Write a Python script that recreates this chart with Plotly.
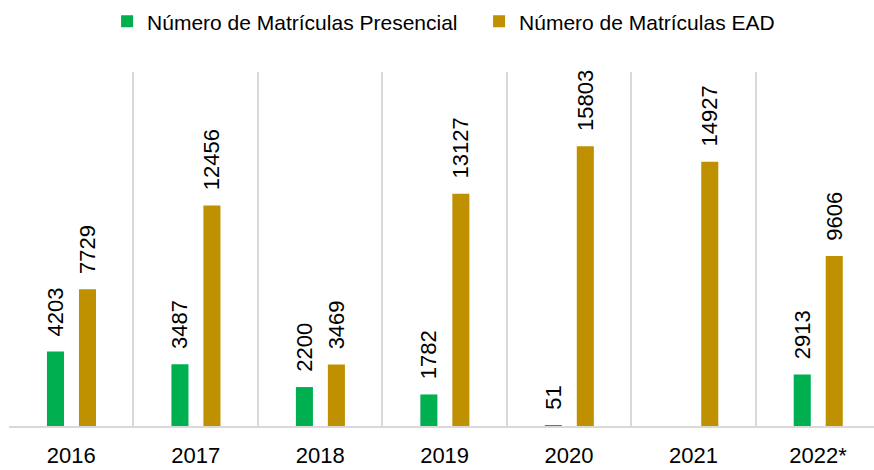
import plotly.graph_objects as go

categories = ["2016", "2017", "2018", "2019", "2020", "2021", "2022*"]
presencial = [4203, 3487, 2200, 1782, 51, None, 2913]
ead = [7729, 12456, 3469, 13127, 15803, 14927, 9606]

series_names = ["Número de Matrículas Presencial", "Número de Matrículas EAD"]
colors = ["#00B050", "#BF9000"]

FONT = "Liberation Sans, Arial, sans-serif"

fig = go.Figure()
for name, vals, col, off in zip(series_names, [presencial, ead], colors, [-0.195, 0.062]):
    fig.add_trace(go.Bar(
        x=categories, y=vals, name=name,
        marker=dict(color=col, line=dict(width=0)),
        width=0.137, offset=off,
        texttemplate="\u00a0\u00a0%{y:.0f}", textposition="outside", textangle=-90,
        textfont=dict(family=FONT, size=22, color="#000000"),
        constraintext="none", cliponaxis=False,
    ))

fig.update_layout(
    width=874, height=470,
    margin=dict(l=9, r=0, t=72, b=44),
    paper_bgcolor="white", plot_bgcolor="white",
    barmode="group",
    showlegend=True,
    legend=dict(
        orientation="h", xref="container", yref="container",
        x=0.1225, xanchor="left", y=1 - 21.7 / 470, yanchor="middle",
        font=dict(family=FONT, size=21, color="#000000"),
        entrywidth=327, entrywidthmode="pixels",
        bgcolor="rgba(0,0,0,0)", itemclick=False,
    ),
    xaxis=dict(
        type="category", range=[-0.5, 6.45], tickson="boundaries",
        showgrid=True, gridcolor="#D9D9D9", gridwidth=2,
        showline=True, linecolor="#D9D9D9", linewidth=2,
        ticks="", ticklabelstandoff=9,
        tickfont=dict(family=FONT, size=22, color="#000000"),
        fixedrange=True,
    ),
    yaxis=dict(range=[0, 20000], visible=False, showgrid=False, zeroline=False, fixedrange=True),
)

fig.write_html(
    "out.html",
    config={"displayModeBar": False},
    post_script="document.body.style.margin='0';document.body.style.overflow='hidden';",
)
